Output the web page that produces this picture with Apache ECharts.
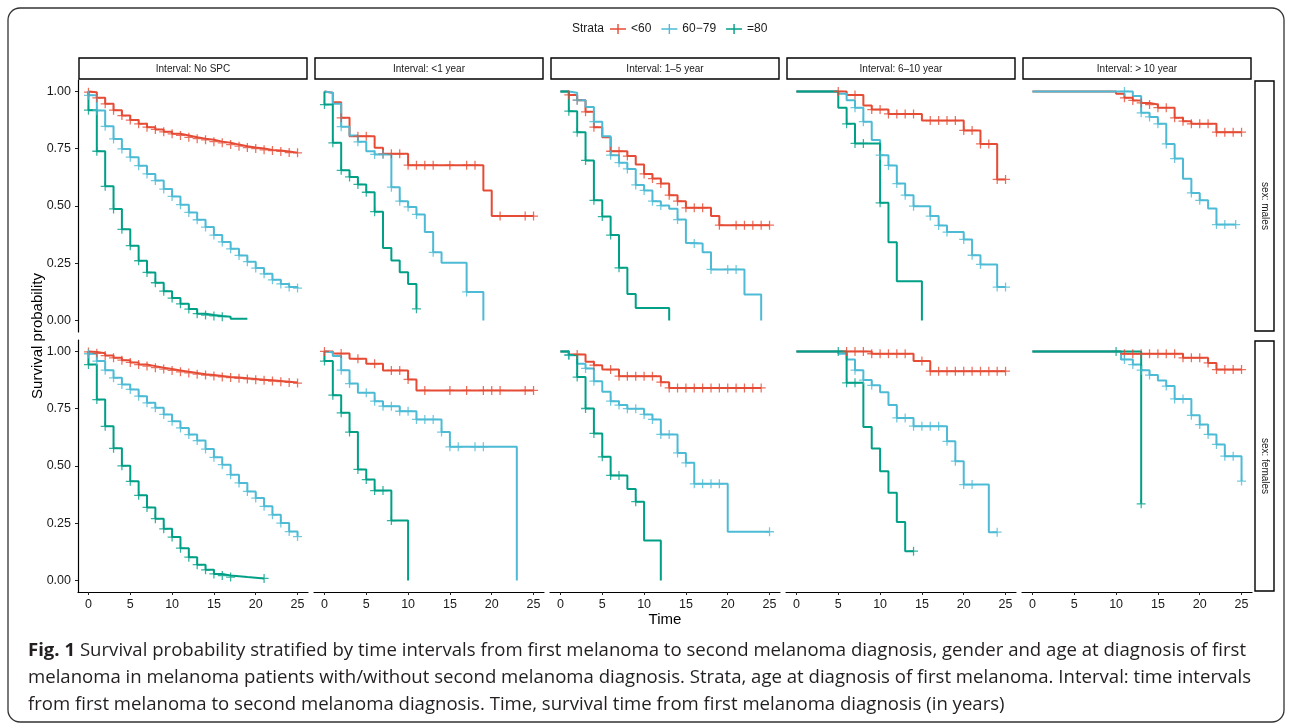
<!DOCTYPE html>
<html><head><meta charset="utf-8">
<script src="https://cdn.jsdelivr.net/npm/echarts@6/dist/echarts.min.js"></script>
<style>html,body{margin:0;padding:0;background:#fff}#c{width:1292px;height:724px}</style>
</head><body><div id="c"></div>
<script>
// ---------------- labels ----------------
const strata = ['<60', '60\u221279', '=80'];
const colors = ['#E64B35', '#4DBBD5', '#00A087'];
const intervals = ['Interval: No SPC', 'Interval: <1 year', 'Interval: 1\u20135 year', 'Interval: 6\u201310 year', 'Interval: > 10 year'];
const sexes = ['sex: males', 'sex: females'];
const xTicks = [0, 5, 10, 15, 20, 25];
const yTicks = [0, 0.25, 0.5, 0.75, 1];
const caption = [
  'Survival probability stratified by time intervals from first melanoma to second melanoma diagnosis, gender and age at diagnosis of first',
  'melanoma in melanoma patients with/without second melanoma diagnosis. Strata, age at diagnosis of first melanoma. Interval: time intervals',
  'from first melanoma to second melanoma diagnosis. Time, survival time from first melanoma diagnosis (in years)'
];

// ---------------- data: t = event times, s = survival after event, c = censor times ----------------
// a = <60, b = 60-79, c = =80 ; M = males, F = females ; 1..5 = interval panels
// Males, No SPC
const M1a_t = [0,1,2,3,4,5,6,7,8,9,10,11,12,13,14,15,16,17,18,19,20,21,22,23,24,25];
const M1a_s = [0.997,0.972,0.946,0.918,0.895,0.875,0.859,0.844,0.834,0.824,0.815,0.808,0.800,0.794,0.789,0.781,0.776,0.768,0.761,0.755,0.751,0.745,0.742,0.738,0.733,0.732];
const M1a_c = [0,1,2,3,4,5,6,7,8,9,10,11,12,13,14,15,16,17,18,19,20,21,22,23,24,25];
const M1b_t = [0,1,2,3,4,5,6,7,8,9,10,11,12,13,14,15,16,17,18,19,20,21,22,23,24,25];
const M1b_s = [0.983,0.917,0.848,0.793,0.749,0.713,0.676,0.640,0.611,0.574,0.542,0.506,0.472,0.440,0.408,0.373,0.343,0.313,0.284,0.257,0.229,0.204,0.178,0.160,0.146,0.142];
const M1b_c = [0,1,2,3,4,5,6,7,8,9,10,11,12,13,14,15,16,17,18,19,20,21,22,23,24,25];
const M1c_t = [0,1,2,3,4,5,6,7,8,9,10,11,12,13,14,15,16,17,19];
const M1c_s = [0.918,0.739,0.586,0.487,0.398,0.327,0.261,0.210,0.165,0.128,0.098,0.073,0.050,0.030,0.024,0.020,0.017,0.008,0.008];
const M1c_c = [0,1,2,3,4,5,6,7,8,9,10,11,12,13,14,15,16];
// Males, <1 year
const M2a_t = [0,1,2,3,6,7,10,19,20,25];
const M2a_s = [0.994,0.953,0.885,0.805,0.754,0.728,0.678,0.568,0.456,0.456];
const M2a_c = [2,4,5,7,8,9,10,11,12,13,15,17,18,21,24,25];
const M2b_t = [0,1,2,3,4,5,6,8,9,10,11,12,13,14,17,19];
const M2b_s = [0.994,0.946,0.846,0.808,0.780,0.739,0.725,0.582,0.521,0.496,0.463,0.386,0.298,0.252,0.125,0];
const M2b_c = [2,4,6,7,8,9,10,11,13,17];
const M2c_t = [0,1,2,3,4,5,6,7,8,9,10,11];
const M2c_s = [0.943,0.776,0.656,0.627,0.594,0.560,0.475,0.317,0.262,0.211,0.160,0.051];
const M2c_c = [0,1,2,3,4,5,6,11];
// Males, 1-5 year
const M3a_t = [0,1,2,3,4,5,6,8,9,10,11,12,13,14,15,18,19,25];
const M3a_s = [1,0.985,0.962,0.911,0.844,0.800,0.739,0.718,0.681,0.640,0.620,0.598,0.547,0.521,0.492,0.456,0.416,0.416];
const M3a_c = [1,2,3,4,6,7,8,10,11,12,13,14,15,16,17,19,21,22,23,24,25];
const M3b_t = [0,1,2,3,4,5,6,7,8,9,10,11,12,13,14,15,16,17,18,22,24];
const M3b_s = [1,0.994,0.962,0.932,0.868,0.805,0.722,0.689,0.662,0.592,0.568,0.521,0.502,0.488,0.441,0.339,0.336,0.298,0.223,0.114,0];
const M3b_c = [2,4,6,7,8,9,10,11,12,14,16,18,20,21];
const M3c_t = [0,1,2,3,4,5,6,7,8,9,13];
const M3c_s = [1,0.914,0.822,0.699,0.525,0.454,0.373,0.230,0.116,0.055,0];
const M3c_c = [1,2,3,4,5,6,7];
// Males, 6-10 year
const M4a_t = [0,6,8,9,11,15,20,22,24,25];
const M4a_s = [1,0.985,0.939,0.921,0.902,0.873,0.830,0.771,0.616,0.616];
const M4a_c = [5,7,9,10,11,12,13,14,16,17,18,19,20,21,22,23,24,25];
const M4b_t = [0,5,6,7,8,9,10,11,12,13,14,16,17,18,20,21,22,24,25];
const M4b_s = [1,0.990,0.962,0.929,0.868,0.788,0.722,0.677,0.598,0.547,0.499,0.456,0.415,0.386,0.354,0.285,0.245,0.146,0.146];
const M4b_c = [7,8,10,11,12,13,14,16,17,18,20,21,22,24,25];
const M4c_t = [0,5,6,7,10,11,12,15];
const M4c_s = [1,0.929,0.859,0.773,0.514,0.342,0.172,0];
const M4c_c = [6,7,8,10];
// Males, > 10 year
const M5a_t = [0,10,11,12,13,14,15,17,18,19,22,25];
const M5a_s = [1,0.990,0.972,0.961,0.950,0.943,0.929,0.885,0.870,0.859,0.822,0.822];
const M5a_c = [11,12,13,14,15,16,17,18,19,20,21,22,23,24,25];
const M5b_t = [0,12,13,14,15,16,17,18,19,20,21,22,24.3];
const M5b_s = [1,0.980,0.907,0.889,0.859,0.771,0.707,0.619,0.557,0.525,0.489,0.419,0.419];
const M5b_c = [11,13,14,15,16,17,19,20,22,23,24.3];
// Females, No SPC
const F1a_t = [0,1,2,3,4,5,6,7,8,9,10,11,12,13,14,15,16,17,18,19,20,21,22,23,24,25];
const F1a_s = [0.998,0.992,0.982,0.972,0.962,0.952,0.943,0.936,0.929,0.923,0.917,0.911,0.906,0.901,0.897,0.893,0.889,0.886,0.883,0.880,0.877,0.874,0.871,0.868,0.865,0.862];
const F1a_c = [0,1,2,3,4,5,6,7,8,9,10,11,12,13,14,15,16,17,18,19,20,21,22,23,24,25];
const F1b_t = [0,1,2,3,4,5,6,7,8,9,10,11,12,13,14,15,16,17,18,19,20,21,22,23,24,25];
const F1b_s = [0.990,0.958,0.918,0.885,0.856,0.834,0.805,0.776,0.754,0.725,0.695,0.666,0.637,0.611,0.574,0.538,0.506,0.462,0.426,0.389,0.360,0.324,0.287,0.251,0.214,0.192];
const F1b_c = [0,1,2,3,4,5,6,7,8,9,10,11,12,13,14,15,16,17,18,19,20,21,22,23,24,25];
const F1c_t = [0,1,2,3,4,5,6,7,8,9,10,11,12,13,14,15,16,17,19,21];
const F1c_s = [0.943,0.790,0.673,0.577,0.501,0.433,0.372,0.319,0.270,0.226,0.190,0.141,0.102,0.069,0.047,0.029,0.022,0.015,0.009,0.009];
const F1c_c = [0,1,2,3,4,5,6,7,8,9,10,11,12,13,14,15,16,17,21];
// Females, <1 year
const F2a_t = [0,1,3,5,7,10,11,25];
const F2a_s = [1,0.991,0.968,0.946,0.917,0.878,0.830,0.830];
const F2a_c = [0,2,4,6,8,9,10,12,15,17,19,20,21,24,25];
const F2b_t = [0,1,2,3,4,6,7,9,11,14,15,23];
const F2b_s = [0.997,0.980,0.918,0.860,0.820,0.783,0.761,0.739,0.703,0.648,0.584,0];
const F2b_c = [2,3,5,6,7,8,9,10,11,12,13,14,15,16,18,19];
const F2c_t = [0,1,2,3,4,5,6,8,10];
const F2c_s = [0.958,0.809,0.732,0.648,0.485,0.441,0.393,0.262,0];
const F2c_c = [0,1,2,3,4,5,6,7,8];
// Females, 1-5 year
const F3a_t = [0,1,3,4,5,7,12,13,24];
const F3a_s = [1,0.987,0.955,0.940,0.921,0.892,0.866,0.841,0.841];
const F3a_c = [2,4,6,7,8,9,10,11,12,13,14,15,16,17,18,19,20,21,22,23,24];
const F3b_t = [0,1,2,3,4,5,6,7,8,10,11,12,14,15,16,20,25];
const F3b_s = [1,0.983,0.946,0.926,0.870,0.824,0.783,0.766,0.750,0.725,0.703,0.638,0.557,0.514,0.422,0.213,0.213];
const F3b_c = [1,3,4,6,7,8,9,10,11,12,13,14,15,16,17,18,19,25];
const F3c_t = [0,1,2,3,4,5,6,8,9,10,12];
const F3c_s = [1,0.985,0.888,0.751,0.642,0.540,0.459,0.400,0.344,0.175,0];
const F3c_c = [1,2,3,4,5,6,7,9];
// Females, 6-10 year
const F4a_t = [0,9,14,16,25];
const F4a_s = [1,0.990,0.958,0.914,0.914];
const F4a_c = [6,7,8,9,10,11,12,13,15,16,17,18,19,20,21,22,23,24,25];
const F4b_t = [0,5,6,7,8,9,10,11,12,14,18,19,20,23,24];
const F4b_s = [1,0.990,0.965,0.918,0.875,0.852,0.822,0.766,0.710,0.674,0.608,0.521,0.419,0.211,0.211];
const F4b_c = [7,8,9,12,13,14,15,16,17,18,19,20,21,24];
const F4c_t = [0,6,8,9,10,11,12,13,14];
const F4c_s = [1,0.863,0.670,0.576,0.477,0.383,0.256,0.128,0.128];
const F4c_c = [5,6,7,14];
// Females, > 10 year
const F5a_t = [0,10.6,18,21,22,25];
const F5a_s = [1,0.990,0.972,0.950,0.921,0.921];
const F5a_c = [11,12,13,14,15,16,17,18,19,20,21,22,23,24,25];
const F5b_t = [0,10.6,12,13,14,15,16,17,19,20,21,22,23,25];
const F5b_s = [1,0.965,0.943,0.918,0.897,0.873,0.849,0.793,0.721,0.681,0.638,0.594,0.543,0.434];
const F5b_c = [11,12,13,14,16,17,18,19,20,21,22,23,24,25];
const F5c_t = [0,13];
const F5c_s = [1,0.335];
const F5c_c = [10,13];

const panels = [
  [[M1a_t,M1a_s,M1a_c],[M1b_t,M1b_s,M1b_c],[M1c_t,M1c_s,M1c_c]],
  [[M2a_t,M2a_s,M2a_c],[M2b_t,M2b_s,M2b_c],[M2c_t,M2c_s,M2c_c]],
  [[M3a_t,M3a_s,M3a_c],[M3b_t,M3b_s,M3b_c],[M3c_t,M3c_s,M3c_c]],
  [[M4a_t,M4a_s,M4a_c],[M4b_t,M4b_s,M4b_c],[M4c_t,M4c_s,M4c_c]],
  [[M5a_t,M5a_s,M5a_c],[M5b_t,M5b_s,M5b_c],null],
  [[F1a_t,F1a_s,F1a_c],[F1b_t,F1b_s,F1b_c],[F1c_t,F1c_s,F1c_c]],
  [[F2a_t,F2a_s,F2a_c],[F2b_t,F2b_s,F2b_c],[F2c_t,F2c_s,F2c_c]],
  [[F3a_t,F3a_s,F3a_c],[F3b_t,F3b_s,F3b_c],[F3c_t,F3c_s,F3c_c]],
  [[F4a_t,F4a_s,F4a_c],[F4b_t,F4b_s,F4b_c],[F4c_t,F4c_s,F4c_c]],
  [[F5a_t,F5a_s,F5a_c],[F5b_t,F5b_s,F5b_c],[F5c_t,F5c_s,F5c_c]]
];

// ---------------- layout ----------------
const P_LEFT = 78, P_W = 230, P_GAP = 6, P_TOPS = [80, 340], P_H = 252;
const AX = 'Liberation Sans, Arial, sans-serif';
const plusPath = 'path://M-0.7,-5H0.7V-0.7H5V0.7H0.7V5H-0.7V0.7H-5V-0.7H-0.7Z';
const legendIcon = 'path://M0,4.3H16V5.7H0Z M7.3,0H8.7V10H7.3Z';

function stepVal(t, s, x) { let v = 1; for (let i = 0; i < t.length; i++) if (t[i] <= x) v = s[i]; return v; }

const grids = [], xAxes = [], yAxes = [], series = [];
for (let p = 0; p < 10; p++) {
  const row = Math.floor(p / 5), col = p % 5;
  grids.push({ left: P_LEFT + col * (P_W + P_GAP), top: P_TOPS[row], width: P_W, height: P_H, containLabel: false, outerBoundsMode: 'none' });
  const bottom = row === 1;
  xAxes.push({
    type: 'value', gridIndex: p, min: -1.25, max: 26.25,
    splitLine: { show: false },
    axisLine: { show: bottom, onZero: false, lineStyle: { color: '#000', width: 1.2 } },
    axisTick: { show: bottom, length: 3, customValues: xTicks, lineStyle: { color: '#222', width: 1 } },
    axisLabel: { show: bottom, customValues: xTicks, margin: 6, fontSize: 12.5, color: '#1a1a1a', fontFamily: AX }
  });
  yAxes.push({
    type: 'value', gridIndex: p, min: -0.05, max: 1.05, show: col === 0,
    splitLine: { show: false },
    axisLine: { show: col === 0, onZero: false, lineStyle: { color: '#000', width: 1.2 } },
    axisTick: { show: col === 0, length: 3, customValues: yTicks, lineStyle: { color: '#222', width: 1 } },
    axisLabel: { show: col === 0, customValues: yTicks, margin: 7, fontSize: 12.5, color: '#1a1a1a', fontFamily: AX,
      formatter: v => v.toFixed(2) }
  });
  panels[p].forEach((cur, k) => {
    if (!cur) return;
    const [t, s, c] = cur;
    const line = [[0, 1]].concat(t.map((x, i) => [x, s[i]]));
    series.push({
      type: 'line', name: strata[k], xAxisIndex: p, yAxisIndex: p, step: 'end',
      showSymbol: false, symbol: 'none', data: line, silent: true, clip: false,
      color: colors[k], lineStyle: { color: colors[k], width: 2 }, itemStyle: { color: colors[k] }, z: 2 + k
    });
    series.push({
      type: 'scatter', name: strata[k], xAxisIndex: p, yAxisIndex: p, symbol: plusPath, symbolSize: 9,
      data: c.map(x => [x, stepVal(t, s, x)]), silent: true, clip: false,
      itemStyle: { color: colors[k] }, z: 6 + k
    });
  });
}

// caption scaling to the reference line width
const CAP_FONT = '"Open Sans", "Noto Sans", sans-serif', CAP_SIZE = 18;
const mctx = document.createElement('canvas').getContext('2d');
function mw(txt, font) { mctx.font = font; return mctx.measureText(txt).width; }
const w1 = mw('Fig. 1', 'bold ' + CAP_SIZE + 'px ' + CAP_FONT) + mw(' ' + caption[0], CAP_SIZE + 'px ' + CAP_FONT);
const capScale = (1246 - 28) / w1;

const graphics = [
  { type: 'rect', shape: { x: 8, y: 8, width: 1276, height: 714, r: 12 }, style: { fill: 'none', stroke: '#333', lineWidth: 1.3 }, silent: true },
  { type: 'text', x: 604, y: 29, style: { text: 'Strata', fontSize: 12, fontFamily: AX, fill: '#1a1a1a', align: 'right', verticalAlign: 'middle' } },
  { type: 'text', x: 38, y: 336, rotation: Math.PI / 2, style: { text: 'Survival probability', fontSize: 15, fontFamily: AX, fill: '#000', align: 'center', verticalAlign: 'middle' } },
  { type: 'text', x: 665, y: 620, style: { text: 'Time', fontSize: 15, fontFamily: AX, fill: '#000', align: 'center', verticalAlign: 'middle' } }
];
intervals.forEach((lab, i) => {
  const x = P_LEFT + i * (P_W + P_GAP);
  graphics.push({ type: 'rect', shape: { x: x + 1, y: 58, width: P_W - 2, height: 21 }, style: { fill: '#fff', stroke: '#000', lineWidth: 1.4 } });
  graphics.push({ type: 'text', x: x + P_W / 2, y: 69, style: { text: lab, fontSize: 10, fontFamily: AX, fill: '#1a1a1a', align: 'center', verticalAlign: 'middle' } });
});
sexes.forEach((lab, r) => {
  graphics.push({ type: 'rect', shape: { x: 1255, y: P_TOPS[r] + 1, width: 19, height: P_H - 2 }, style: { fill: '#fff', stroke: '#000', lineWidth: 1.4 } });
  graphics.push({ type: 'text', x: 1265, y: P_TOPS[r] + P_H / 2, rotation: -Math.PI / 2, style: { text: lab, fontSize: 10, fontFamily: AX, fill: '#1a1a1a', align: 'center', verticalAlign: 'middle' } });
});
caption.forEach((line, i) => {
  graphics.push({ type: 'text', x: 28, y: 651 + i * 27, scaleX: capScale,
    style: { text: (i === 0 ? '{b|Fig. 1} ' : '') + line, fontSize: CAP_SIZE, fontFamily: CAP_FONT, fill: '#231f20', verticalAlign: 'middle',
      rich: { b: { fontWeight: 'bold', fontSize: CAP_SIZE, fontFamily: CAP_FONT, fill: '#231f20' } } } });
});

const chart = echarts.init(document.getElementById('c'), null, { renderer: 'canvas' });
chart.setOption({
  animation: false,
  backgroundColor: '#fff',
  grid: grids, xAxis: xAxes, yAxis: yAxes, series: series,
  legend: {
    left: 610, top: 23, padding: 0, itemWidth: 16, itemHeight: 10, itemGap: 10,
    textStyle: { fontSize: 12, fontFamily: AX, color: '#1a1a1a' },
    data: strata.map(n => ({ name: n, icon: legendIcon })), selectedMode: false
  },
  graphic: graphics
});
</script></body></html>
